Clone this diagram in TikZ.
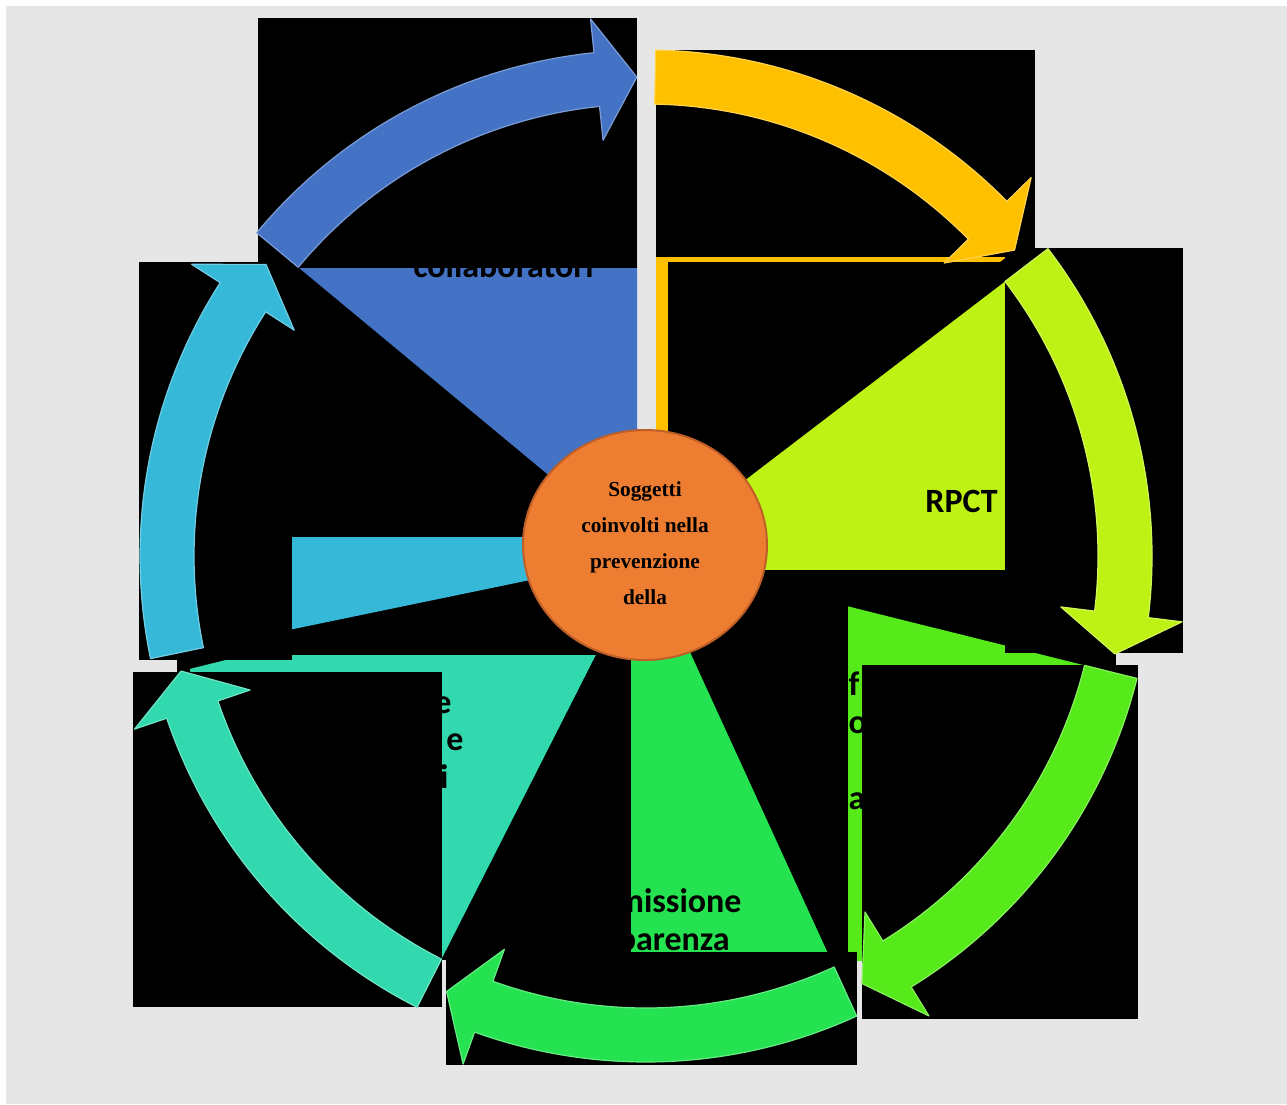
\documentclass[tikz,border=0pt]{standalone}
\usepackage{fontspec}
\newfontfamily\labelfont{Carlito}
\newfontfamily\hubfont{Liberation Serif}
\usetikzlibrary{positioning}

\definecolor{sheet}{RGB}{230,230,230}
\definecolor{segBlue}{RGB}{68,114,196}
\definecolor{segYellow}{RGB}{255,192,0}
\definecolor{segChart}{RGB}{190,242,20}
\definecolor{segLime}{RGB}{86,234,26}
\definecolor{segGreen}{RGB}{36,226,80}
\definecolor{segTeal}{RGB}{50,216,174}
\definecolor{segCyan}{RGB}{54,184,216}
\definecolor{hubOrange}{RGB}{237,125,49}
\definecolor{hubEdge}{RGB}{190,95,40}

\tikzset{every picture/.style={line width=0.75pt}}
\tikzset{
  bitmap/.style={fill=black},
  ringarrow/.style={fill=#1, draw=#1!70!white, line width=0.9pt, line join=round},
  slice/.style={fill=#1},
  seglabel/.style={font=\labelfont\bfseries\fontsize{25.5}{30}\selectfont, inner sep=0pt, anchor=base},
  hubline/.style={font=\hubfont\bfseries\fontsize{16}{20}\selectfont, inner sep=0pt, anchor=base},
}

\begin{document}
\begin{tikzpicture}[x=0.75pt,y=0.75pt,yscale=-1,xscale=1]
	\useasboundingbox (0,0) rectangle (1287,1104);

	%Shape: Rectangle [page]
	\fill[white] (0,0) rectangle (1287,1104);
	\fill[sheet] (6,6) rectangle (1287,1104);

	%Shape: Slice [yellow]
	\begin{scope}
	\fill[bitmap] (656,257) rectangle (1005,570);
	\clip (656,257) rectangle (1005,570);
	\fill[slice=segYellow] (646,556) -- +(-88.9:470) arc[start angle=-88.9, end angle=-39.7, radius=470] -- cycle;
	\end{scope}
	%Shape: Slice [chartreuse]
	\begin{scope}
	\fill[bitmap] (668,262) rectangle (1005,570);
	\clip (668,262) rectangle (1005,570);
	\fill[slice=segChart] (646,556) -- +(-37.4:470) arc[start angle=-37.4, end angle=11.8, radius=470] -- cycle;
	\end{scope}
	%Shape: Slice [lime]
	\begin{scope}
	\fill[bitmap] (848,570) rectangle (1116,960);
	\clip (848,570) rectangle (1116,960);
	\fill[slice=segLime] (646,556) -- +(14:470) arc[start angle=14, end angle=63.2, radius=470] -- cycle;
	\end{scope}
	%Shape: Slice [green]
	\begin{scope}
	\fill[bitmap] (631,570) rectangle (848,952);
	\clip (631,570) rectangle (848,952);
	\fill[slice=segGreen] (646,556) -- +(65.4:470) arc[start angle=65.4, end angle=114.6, radius=470] -- cycle;
	\end{scope}
	%Shape: Slice [teal]
	\begin{scope}
	\fill[bitmap] (177,655) rectangle (631,960);
	\clip (177,655) rectangle (631,960);
	\fill[slice=segTeal] (646,556) -- +(116.9:470) arc[start angle=116.9, end angle=166.1, radius=470] -- cycle;
	\end{scope}
	%Shape: Slice [cyan]
	\begin{scope}
	\fill[bitmap] (290,537) rectangle (646,655);
	\clip (290,537) rectangle (646,655);
	\fill[slice=segCyan] (646,556) -- +(168.3:470) arc[start angle=168.3, end angle=217.5, radius=470] -- cycle;
	\end{scope}
	%Shape: Slice [blue]
	\begin{scope}
	\fill[bitmap] (290,104) rectangle (637,537);
	\clip (290,104) rectangle (637,537);
	\fill[slice=segBlue] (646,556) -- +(-140.3:470) arc[start angle=-140.3, end angle=-91.1, radius=470] -- cycle;
	\end{scope}

	%Shape: Rectangle [arrow backgrounds]
	\fill[bitmap] (258,18) rectangle (637,268);
	\fill[bitmap] (656,50) rectangle (1035,257);
	\fill[bitmap] (1005,248) rectangle (1183,653);
	\fill[bitmap] (862,665) rectangle (1138,1019);
	\fill[bitmap] (446,952) rectangle (857,1065);
	\fill[bitmap] (133,672) rectangle (442,1007);
	\fill[bitmap] (139,262) rectangle (292,660);

	%Shape: Circular Arrows
	\begin{scope}[shift={(646,556)}]
	\filldraw[ringarrow=segBlue] (-140.3:506) arc[start angle=-140.3, end angle=-95.9, radius=506] -- (-95.9:540) -- (-91.1:479) -- (-95.9:418) -- (-95.9:452) arc[start angle=-95.9, end angle=-140.3, radius=452] -- cycle;
	\filldraw[ringarrow=segYellow] (-88.9:506) arc[start angle=-88.9, end angle=-44.5, radius=506] -- (-44.5:540) -- (-39.7:479) -- (-44.5:418) -- (-44.5:452) arc[start angle=-44.5, end angle=-88.9, radius=452] -- cycle;
	\filldraw[ringarrow=segChart] (-37.4:506) arc[start angle=-37.4, end angle=7, radius=506] -- (7:540) -- (11.8:479) -- (7:418) -- (7:452) arc[start angle=7, end angle=-37.4, radius=452] -- cycle;
	\filldraw[ringarrow=segLime] (14:506) arc[start angle=14, end angle=58.4, radius=506] -- (58.4:540) -- (63.2:479) -- (58.4:418) -- (58.4:452) arc[start angle=58.4, end angle=14, radius=452] -- cycle;
	\filldraw[ringarrow=segGreen] (65.4:506) arc[start angle=65.4, end angle=109.8, radius=506] -- (109.8:540) -- (114.6:479) -- (109.8:418) -- (109.8:452) arc[start angle=109.8, end angle=65.4, radius=452] -- cycle;
	\filldraw[ringarrow=segTeal] (116.9:506) arc[start angle=116.9, end angle=161.3, radius=506] -- (161.3:540) -- (166.1:479) -- (161.3:418) -- (161.3:452) arc[start angle=161.3, end angle=116.9, radius=452] -- cycle;
	\filldraw[ringarrow=segCyan] (168.3:506) arc[start angle=168.3, end angle=212.7, radius=506] -- (212.7:540) -- (217.5:479) -- (212.7:418) -- (212.7:452) arc[start angle=212.7, end angle=168.3, radius=452] -- cycle;
	\end{scope}

	%Shape: Circle [hub]
	\draw[fill=hubOrange, draw=hubEdge, line width=1.5pt] (645,545) ellipse [x radius=122, y radius=115];

	% Text Node
	\node[hubline] (hub-1) at (645,496) {Soggetti};
	\node[hubline] (hub-2) at (645,532) {coinvolti nella};
	\node[hubline] (hub-3) at (645,568) {prevenzione};
	\node[hubline] (hub-4) at (645,604) {della};

	% Text Node
	\node[seglabel] (collab) at (503.5,277) {collaboratori};
	% Text Node
	\node[seglabel] (rpct) at (961.5,512) {RPCT};
	% Text Node
	\node[seglabel] (lime-1) at (848,695) [anchor=base west] {f};
	\node[seglabel] (lime-2) at (848,733) [anchor=base west] {o};
	\node[seglabel] (lime-4) at (848,809) [anchor=base west] {a};
	% Text Node
	\node[seglabel] (comm-1) at (647,912) {Commissione};
	\node[seglabel] (comm-2) at (647,950) {trasparenza};
	% Text Node
	\node[seglabel] (teal-1) at (452,713) [anchor=base east] {e};
	\node[seglabel] (teal-2) at (464,750) [anchor=base east] {e};
	\node[seglabel] (teal-3) at (449,788) [anchor=base east] {i};

\end{tikzpicture}
\end{document}
